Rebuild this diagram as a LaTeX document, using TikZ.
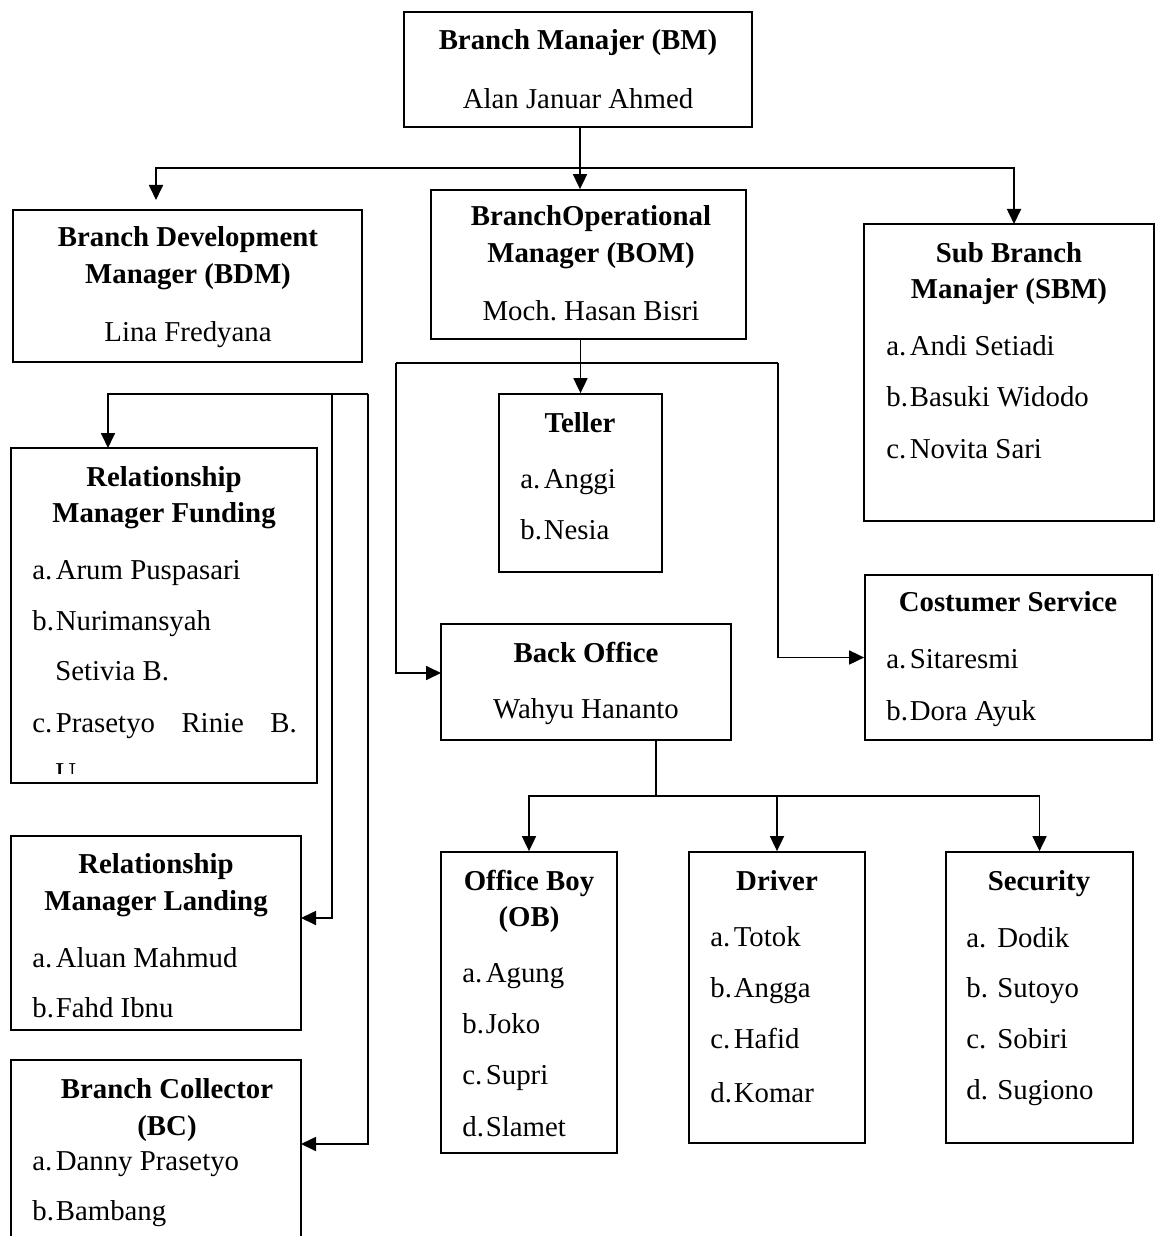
\documentclass[tikz,border=0pt]{standalone}
\usepackage{fontspec}
\setmainfont{Liberation Serif}
\usetikzlibrary{arrows.meta, positioning, fit}
\frenchspacing

\newcommand{\chartfont}{\fontsize{16.4pt}{20pt}\selectfont}
\newcommand{\itm}[2]{\makebox[0.47cm][l]{#1}#2}
\newcommand{\itmw}[2]{\makebox[0.62cm][l]{#1}#2}

\tikzset{
  box/.style = {draw, line width=1pt, inner sep=0pt},
  title/.style = {anchor=base, font=\chartfont\bfseries},
  person/.style = {anchor=base, font=\chartfont},
  item/.style = {anchor=base west, inner sep=0pt, font=\chartfont},
  arr/.style = {-{Triangle[length=3mm, width=2.8mm]}, line width=1pt},
  link/.style = {line width=1pt}
}

\begin{document}
\begin{tikzpicture}[x=0.02cm, y=-0.02cm]
  \useasboundingbox (0,0) rectangle (1160,1236);
  \clip (0,0) rectangle (1160,1236);

  % top level
  \node (bm) [box, fit={(404,12) (752,127)}] {};
  \node (bm-t) [title] at (578,50) {Branch Manajer (BM)};
  \node (bm-n) [person] at (578,109) {Alan Januar Ahmed};

  % second level
  \node (bdm) [box, fit={(13,210) (362,362)}] {};
  \node (bdm-t1) [title] at (188,247) {Branch Development};
  \node (bdm-t2) [title] at (188,284) {Manager (BDM)};
  \node (bdm-n) [person] at (188,342) {Lina Fredyana};

  \node (bom) [box, fit={(431,190) (746,339)}] {};
  \node (bom-t1) [title] at (591,226) {BranchOperational};
  \node (bom-t2) [title] at (591,263) {Manager (BOM)};
  \node (bom-n) [person] at (591,321) {Moch. Hasan Bisri};

  \node (sbm) [box, fit={(864,224) (1154,521)}] {};
  \node (sbm-t1) [title] at (1009,263) {Sub Branch};
  \node (sbm-t2) [title] at (1009,299) {Manajer (SBM)};
  \node (sbm-a) [item] at (886,356) {\itm{a.}{Andi Setiadi}};
  \node (sbm-b) [item] at (886,406) {\itm{b.}{Basuki Widodo}};
  \node (sbm-c) [item] at (886,458) {\itm{c.}{Novita Sari}};

  % under BOM
  \node (teller) [box, fit={(499,394) (662,572)}] {};
  \node (teller-t) [title] at (580,432) {Teller};
  \node (teller-a) [item] at (520,488) {\itm{a.}{Anggi}};
  \node (teller-b) [item] at (520,539) {\itm{b.}{Nesia}};

  \node (backoff) [box, fit={(441,624) (731,740)}] {};
  \node (backoff-t) [title] at (586,662) {Back Office};
  \node (backoff-n) [person] at (586,718) {Wahyu Hananto};

  \node (cs) [box, fit={(865,575) (1152,740)}] {};
  \node (cs-t) [title] at (1008,611) {Costumer Service};
  \node (cs-a) [item] at (886,668) {\itm{a.}{Sitaresmi}};
  \node (cs-b) [item] at (886,720) {\itm{b.}{Dora Ayuk}};

  % left column
  \node (rmf) [box, fit={(11,448) (317,783)}] {};
  \node (rmf-t1) [title] at (164,486) {Relationship};
  \node (rmf-t2) [title] at (164,522) {Manager Funding};
  \node (rmf-a) [item] at (32,579) {\itm{a.}{Arum Puspasari}};
  \node (rmf-b) [item] at (32,630) {\itm{b.}{Nurimansyah}};
  \node (rmf-b2) [item] at (55,680) {Setivia B.};
  \node (rmf-c) [item] at (32,732) {\itm{c.}{\makebox[4.82cm][s]{Prasetyo Rinie B.}}};
  \begin{scope}
    \clip (11,448) rectangle (317,773);
    \node (rmf-c2) [item] at (55,782) {U};
  \end{scope}

  \node (rml) [box, fit={(11,836) (301,1030)}] {};
  \node (rml-t1) [title] at (156,873) {Relationship};
  \node (rml-t2) [title] at (156,910) {Manager Landing};
  \node (rml-a) [item] at (32,967) {\itm{a.}{Aluan Mahmud}};
  \node (rml-b) [item] at (32,1017) {\itm{b.}{Fahd Ibnu}};

  \node (bc) [box, fit={(11,1060) (301,1270)}] {};
  \node (bc-t1) [title] at (167,1098) {Branch Collector};
  \node (bc-t2) [title] at (167,1135) {(BC)};
  \node (bc-a) [item] at (32,1170) {\itm{a.}{Danny Prasetyo}};
  \node (bc-b) [item] at (32,1220) {\itm{b.}{Bambang}};

  % under back office
  \node (ob) [box, fit={(441,852) (617,1153)}] {};
  \node (ob-t1) [title] at (529,890) {Office Boy};
  \node (ob-t2) [title] at (529,926) {(OB)};
  \node (ob-a) [item] at (462,982) {\itm{a.}{Agung}};
  \node (ob-b) [item] at (462,1033) {\itm{b.}{Joko}};
  \node (ob-c) [item] at (462,1084) {\itm{c.}{Supri}};
  \node (ob-d) [item] at (462,1136) {\itm{d.}{Slamet}};

  \node (driver) [box, fit={(689,852) (865,1143)}] {};
  \node (driver-t) [title] at (777,890) {Driver};
  \node (driver-a) [item] at (710,946) {\itm{a.}{Totok}};
  \node (driver-b) [item] at (710,997) {\itm{b.}{Angga}};
  \node (driver-c) [item] at (710,1048) {\itm{c.}{Hafid}};
  \node (driver-d) [item] at (710,1102) {\itm{d.}{Komar}};

  \node (security) [box, fit={(946,852) (1133,1143)}] {};
  \node (security-t) [title] at (1039,890) {Security};
  \node (security-a) [item] at (966,947) {\itmw{a.}{Dodik}};
  \node (security-b) [item] at (966,997) {\itmw{b.}{Sutoyo}};
  \node (security-c) [item] at (966,1048) {\itmw{c.}{Sobiri}};
  \node (security-d) [item] at (966,1099) {\itmw{d.}{Sugiono}};

  % junction points
  \coordinate (bmbar) at (580,168);
  \coordinate (bdmin) at (156,200);
  \coordinate (sbmin) at (1014,224);
  \coordinate (bomleft) at (396,363);
  \coordinate (bomright) at (778,363);
  \coordinate (boin) at (441,673);
  \coordinate (bobot) at (656,740);
  \coordinate (bobar) at (656,796);
  \coordinate (leftbar1) at (332,394);
  \coordinate (leftbar2) at (368,394);
  \coordinate (rmfin) at (108,448);
  \coordinate (rmlin) at (301,918);
  \coordinate (bcin) at (301,1144);

  % connectors
  \draw [arr] (bm.south -| bmbar) -- (bmbar |- bom.north);
  \draw [arr] (bmbar) -| (bdmin);
  \draw [arr] (bmbar) -| (sbmin);

  \draw [arr] (bom.south -| teller.north) -- (teller.north);
  \draw [link] (bomleft) -- (bomright);
  \draw [arr] (bomleft) |- (boin);
  \draw [arr] (bomright) |- (cs);

  \draw [link] (bobot) -- (bobar);
  \draw [arr] (bobar) -| (ob);
  \draw [arr] (bobar) -| (driver);
  \draw [arr] (bobar) -| (security);

  \draw [arr] (leftbar2) -| (rmfin);
  \draw [arr] (leftbar1) |- (rmlin);
  \draw [arr] (leftbar2) |- (bcin);
\end{tikzpicture}
\end{document}
